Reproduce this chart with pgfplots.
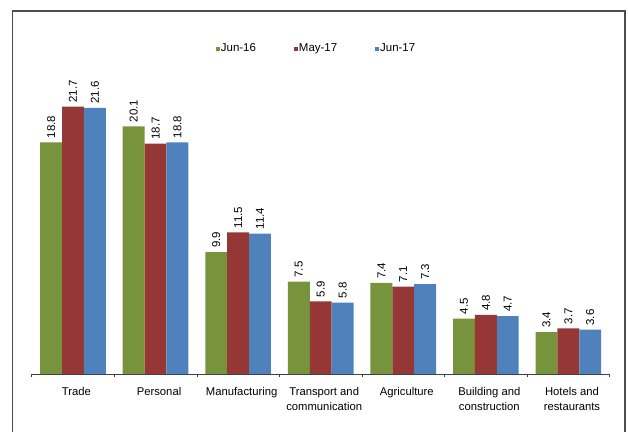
\documentclass[border=0pt]{standalone}
\usepackage{fontspec}
\setmainfont{Liberation Sans}
\usepackage{pgfplots}
\pgfplotsset{compat=1.18}
\definecolor{cgreen}{HTML}{77933C}
\definecolor{cred}{HTML}{953735}
\definecolor{cblue}{HTML}{4F81BD}
\begin{document}
\begin{tikzpicture}
\useasboundingbox (0,0) rectangle (628bp,432bp);
\draw[line width=1.2bp, black!70] (12.7bp,0) -- (12.7bp,421bp) -- (625bp,421bp) -- (625bp,0);
\begin{axis}[
  at={(31.7bp,58bp)}, anchor=south west,
  scale only axis,
  width=578bp, height=356bp,
  ymin=0, ymax=28.9,
  xmin=-0.5, xmax=6.5,
  axis x line*=bottom, axis y line=none,
  x axis line style={black!75, line width=0.8bp, -},
  ybar=0pt, bar width=0.265,
  xtick={0,...,6},
  xticklabels={Trade,Personal,Manufacturing,{Transport and\\communication},Agriculture,{Building and\\construction},{Hotels and\\restaurants}},
  x tick label style={font=\fontsize{11.3}{15}\selectfont, align=center, anchor=north, yshift=-10bp, xshift=3.5bp},
  major tick length=0pt,
  minor xtick={-0.5,0.5,...,6.5},
  minor tick length=3bp,
  tick align=outside,
  minor tick style={black!75, line width=0.6bp},
  nodes near coords,
  every node near coord/.append style={rotate=90, anchor=west, font=\fontsize{11.5}{12}\selectfont, black, inner sep=2bp, xshift=2bp},
  /pgf/number format/.cd, fixed, precision=1, fixed zerofill, assume math mode=true,
  /pgfplots/.cd,
  legend columns=3,
  legend style={at={(0.492,0.914)}, anchor=center, draw=none, fill=none, font=\fontsize{11.5}{12}\selectfont,
    nodes={inner xsep=1bp},
    /tikz/every even column/.append style={column sep=37bp}},
  legend image code/.code={\fill[#1] (0bp,-2bp) rectangle (4bp,2bp);},
]
\addplot[fill=cgreen, draw=none] coordinates {(0,18.8) (1,20.1) (2,9.9) (3,7.5) (4,7.4) (5,4.5) (6,3.4)};
\addplot[fill=cred, draw=none] coordinates {(0,21.7) (1,18.7) (2,11.5) (3,5.9) (4,7.1) (5,4.8) (6,3.7)};
\addplot[fill=cblue, draw=none] coordinates {(0,21.6) (1,18.8) (2,11.4) (3,5.8) (4,7.3) (5,4.7) (6,3.6)};
\legend{Jun-16,May-17,Jun-17}
\end{axis}
\end{tikzpicture}
\end{document}
